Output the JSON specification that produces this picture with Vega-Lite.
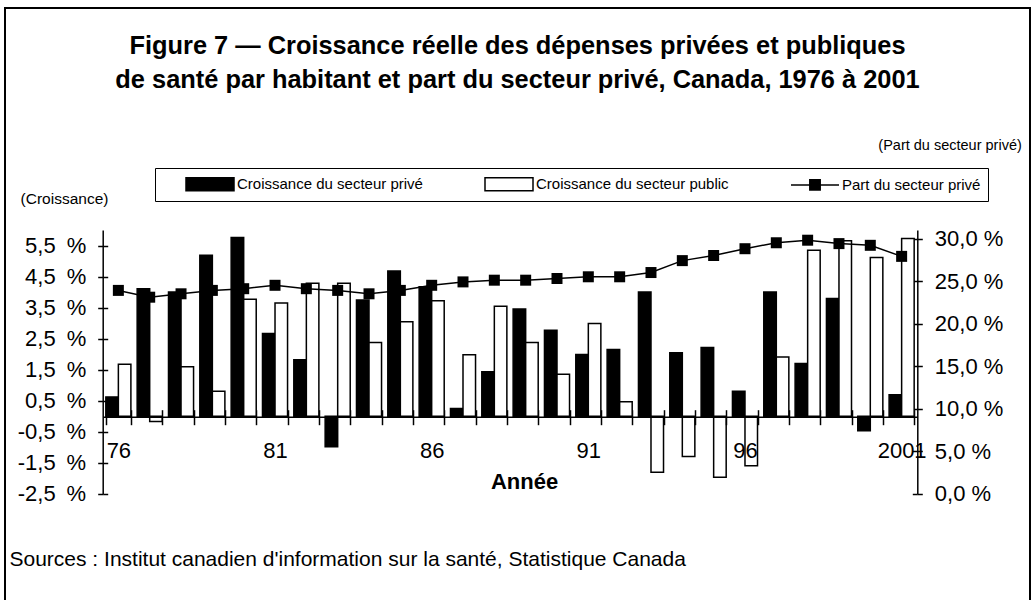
{
  "$schema": "https://vega.github.io/schema/vega-lite/v6.json",
  "autosize": {"type": "none"},
  "padding": {"left": 5, "top": 8, "right": 5, "bottom": 0},
  "width": 1025,
  "height": 600,
  "background": "white",
  "config": {
    "view": {"stroke": "black", "strokeWidth": 2, "fill": "white"},
    "font": "Liberation Sans",
    "legend": {
      "title": null,
      "orient": "none",
      "legendX": 150,
      "legendY": 160,
      "direction": "horizontal",
      "columns": 3,
      "columnPadding": 38,
      "padding": 7,
      "strokeColor": "black",
      "fillColor": "white",
      "symbolSize": 256,
      "symbolOffset": 39,
      "symbolStrokeColor": "black",
      "symbolStrokeWidth": 1.5,
      "labelOffset": 18,
      "labelFont": "Liberation Sans",
      "labelFontSize": 15,
      "labelColor": "black",
      "labelLimit": 400
    }
  },
  "title": {
    "text": ["Figure 7 — Croissance réelle des dépenses privées et publiques", "de santé par habitant et part du secteur privé, Canada, 1976 à 2001"],
    "anchor": "middle",
    "frame": "group",
    "baseline": "bottom",
    "offset": -110,
    "lineHeight": 34,
    "font": "Liberation Sans",
    "fontSize": 25.4,
    "fontWeight": "bold",
    "color": "black"
  },
  "datasets": {
    "croissance": [
      {"annee": 1976, "serie": "Croissance du secteur privé", "valeur": 0.62},
      {"annee": 1976, "serie": "Croissance du secteur public", "valeur": 1.67},
      {"annee": 1977, "serie": "Croissance du secteur privé", "valeur": 4.11},
      {"annee": 1977, "serie": "Croissance du secteur public", "valeur": -0.17},
      {"annee": 1978, "serie": "Croissance du secteur privé", "valeur": 4.0},
      {"annee": 1978, "serie": "Croissance du secteur public", "valeur": 1.59},
      {"annee": 1979, "serie": "Croissance du secteur privé", "valeur": 5.19},
      {"annee": 1979, "serie": "Croissance du secteur public", "valeur": 0.8},
      {"annee": 1980, "serie": "Croissance du secteur privé", "valeur": 5.76},
      {"annee": 1980, "serie": "Croissance du secteur public", "valeur": 3.77},
      {"annee": 1981, "serie": "Croissance du secteur privé", "valeur": 2.66},
      {"annee": 1981, "serie": "Croissance du secteur public", "valeur": 3.65},
      {"annee": 1982, "serie": "Croissance du secteur privé", "valeur": 1.82},
      {"annee": 1982, "serie": "Croissance du secteur public", "valeur": 4.28},
      {"annee": 1983, "serie": "Croissance du secteur privé", "valeur": -0.99},
      {"annee": 1983, "serie": "Croissance du secteur public", "valeur": 4.28},
      {"annee": 1984, "serie": "Croissance du secteur privé", "valeur": 3.74},
      {"annee": 1984, "serie": "Croissance du secteur public", "valeur": 2.37},
      {"annee": 1985, "serie": "Croissance du secteur privé", "valeur": 4.68},
      {"annee": 1985, "serie": "Croissance du secteur public", "valeur": 3.04},
      {"annee": 1986, "serie": "Croissance du secteur privé", "valeur": 4.17},
      {"annee": 1986, "serie": "Croissance du secteur public", "valeur": 3.72},
      {"annee": 1987, "serie": "Croissance du secteur privé", "valeur": 0.25},
      {"annee": 1987, "serie": "Croissance du secteur public", "valeur": 1.98},
      {"annee": 1988, "serie": "Croissance du secteur privé", "valeur": 1.43},
      {"annee": 1988, "serie": "Croissance du secteur public", "valeur": 3.54},
      {"annee": 1989, "serie": "Croissance du secteur privé", "valeur": 3.45},
      {"annee": 1989, "serie": "Croissance du secteur public", "valeur": 2.37},
      {"annee": 1990, "serie": "Croissance du secteur privé", "valeur": 2.77},
      {"annee": 1990, "serie": "Croissance du secteur public", "valeur": 1.35},
      {"annee": 1991, "serie": "Croissance du secteur privé", "valeur": 1.99},
      {"annee": 1991, "serie": "Croissance du secteur public", "valeur": 2.99},
      {"annee": 1992, "serie": "Croissance du secteur privé", "valeur": 2.15},
      {"annee": 1992, "serie": "Croissance du secteur public", "valeur": 0.46},
      {"annee": 1993, "serie": "Croissance du secteur privé", "valeur": 4.0},
      {"annee": 1993, "serie": "Croissance du secteur public", "valeur": -1.81},
      {"annee": 1994, "serie": "Croissance du secteur privé", "valeur": 2.04},
      {"annee": 1994, "serie": "Croissance du secteur public", "valeur": -1.3},
      {"annee": 1995, "serie": "Croissance du secteur privé", "valeur": 2.21},
      {"annee": 1995, "serie": "Croissance du secteur public", "valeur": -1.97},
      {"annee": 1996, "serie": "Croissance du secteur privé", "valeur": 0.8},
      {"annee": 1996, "serie": "Croissance du secteur public", "valeur": -1.6},
      {"annee": 1997, "serie": "Croissance du secteur privé", "valeur": 4.0},
      {"annee": 1997, "serie": "Croissance du secteur public", "valeur": 1.91},
      {"annee": 1998, "serie": "Croissance du secteur privé", "valeur": 1.7},
      {"annee": 1998, "serie": "Croissance du secteur public", "valeur": 5.35},
      {"annee": 1999, "serie": "Croissance du secteur privé", "valeur": 3.79},
      {"annee": 1999, "serie": "Croissance du secteur public", "valeur": 5.65},
      {"annee": 2000, "serie": "Croissance du secteur privé", "valeur": -0.47},
      {"annee": 2000, "serie": "Croissance du secteur public", "valeur": 5.11},
      {"annee": 2001, "serie": "Croissance du secteur privé", "valeur": 0.69},
      {"annee": 2001, "serie": "Croissance du secteur public", "valeur": 5.73}
    ],
    "part": [
      {"annee": 1976, "part": 23.9},
      {"annee": 1977, "part": 23.1},
      {"annee": 1978, "part": 23.5},
      {"annee": 1979, "part": 23.9},
      {"annee": 1980, "part": 24.1},
      {"annee": 1981, "part": 24.5},
      {"annee": 1982, "part": 24.1},
      {"annee": 1983, "part": 23.9},
      {"annee": 1984, "part": 23.5},
      {"annee": 1985, "part": 23.9},
      {"annee": 1986, "part": 24.5},
      {"annee": 1987, "part": 24.9},
      {"annee": 1988, "part": 25.1},
      {"annee": 1989, "part": 25.1},
      {"annee": 1990, "part": 25.3},
      {"annee": 1991, "part": 25.5},
      {"annee": 1992, "part": 25.5},
      {"annee": 1993, "part": 26.0},
      {"annee": 1994, "part": 27.4},
      {"annee": 1995, "part": 28.0},
      {"annee": 1996, "part": 28.8},
      {"annee": 1997, "part": 29.5},
      {"annee": 1998, "part": 29.8},
      {"annee": 1999, "part": 29.4},
      {"annee": 2000, "part": 29.2},
      {"annee": 2001, "part": 27.9}
    ]
  },
  "layer": [
    {
      "layer": [
        {
          "data": {"name": "croissance"},
          "mark": {"type": "bar", "stroke": "black", "strokeWidth": 1.5},
          "encoding": {
            "x": {
              "field": "annee",
              "type": "ordinal",
              "scale": {"type": "band", "range": [97.7, 912.3], "paddingInner": 0.2, "paddingOuter": 0.1},
              "axis": {
                "orient": "bottom",
                "offset": -191.3,
                "zindex": 1,
                "tickBand": "extent",
                "tickSize": 8,
                "tickWidth": 1.5,
                "tickColor": "black",
                "domainColor": "black",
                "domainWidth": 1.5,
                "labelAngle": 0,
                "labelOverlap": false,
                "labelPadding": 16,
                "labelFont": "Liberation Sans",
                "labelFontSize": 22,
                "labelColor": "black",
                "labelExpr": "datum.value % 5 == 1 ? (datum.value == 2001 ? '2001' : substring(toString(datum.value), 2)) : ''",
                "grid": false,
                "title": "Année",
                "titleFont": "Liberation Sans",
                "titleFontSize": 22,
                "titleFontWeight": "bold",
                "titleColor": "black",
                "titleX": 519,
                "titleY": 71.6,
                "titleAlign": "center",
                "titleBaseline": "alphabetic"
              }
            },
            "xOffset": {
              "field": "serie",
              "type": "nominal",
              "scale": {"domain": ["Croissance du secteur privé", "Croissance du secteur public"], "paddingInner": 0, "paddingOuter": 0}
            },
            "y": {
              "field": "valeur",
              "type": "quantitative",
              "scale": {"domain": [-2.5, 6], "range": [485.7, 222], "nice": false, "zero": false},
              "axis": {
                "orient": "left",
                "offset": -97.7,
                "values": [-2.5, -1.5, -0.5, 0.5, 1.5, 2.5, 3.5, 4.5, 5.5],
                "labelExpr": "(datum.value < 0 ? '-' : '') + replace(format(abs(datum.value), '.1f'), '.', ',') + '\u2002%'",
                "tickSize": 5,
                "tickWidth": 1.5,
                "tickColor": "black",
                "domainColor": "black",
                "domainWidth": 1.5,
                "labelPadding": 12,
                "labelFont": "Liberation Sans",
                "labelFontSize": 22,
                "labelColor": "black",
                "grid": false,
                "title": "(Croissance)",
                "titleAngle": 0,
                "titleX": -38.7,
                "titleY": 195,
                "titleAlign": "center",
                "titleBaseline": "alphabetic",
                "titleFont": "Liberation Sans",
                "titleFontSize": 15.5,
                "titleFontWeight": "normal",
                "titleColor": "black"
              }
            },
            "fill": {
              "field": "serie",
              "type": "nominal",
              "scale": {"domain": ["Croissance du secteur privé", "Croissance du secteur public", "Part du secteur privé"], "range": ["black", "white", "black"]},
              "legend": {"title": null}
            }
          }
        },
        {
          "data": {"name": "croissance"},
          "transform": [{"filter": "false"}],
          "mark": {"type": "point", "opacity": 1},
          "encoding": {
            "y": {
              "field": "valeur",
              "type": "quantitative",
              "axis": {
                "orient": "left",
                "offset": -97.7,
                "values": [-2.5, -1.5, -0.5, 0.5, 1.5, 2.5, 3.5, 4.5, 5.5],
                "tickSize": -5,
                "tickWidth": 1.5,
                "tickColor": "black",
                "domain": false,
                "labels": false,
                "grid": false,
                "title": null
              }
            }
          }
        }
      ],
      "resolve": {"axis": {"y": "independent"}}
    },
    {
      "layer": [
        {
          "data": {"name": "part"},
          "mark": {"type": "line", "color": "black", "strokeWidth": 1.5, "point": {"shape": "square", "size": 121, "filled": true, "fill": "black", "opacity": 1}},
          "encoding": {
            "x": {
              "field": "annee",
              "type": "ordinal",
              "axis": {
                "orient": "top",
                "offset": -408.7,
                "tickBand": "extent",
                "tickSize": 7,
                "tickWidth": 1.5,
                "tickColor": "black",
                "domain": false,
                "labels": false,
                "grid": false,
                "title": "Sources : Institut canadien d'information sur la santé, Statistique Canada",
                "titleFont": "Liberation Sans",
                "titleFontSize": 21,
                "titleFontWeight": "normal",
                "titleColor": "black",
                "titleX": 4,
                "titleY": 149,
                "titleAlign": "left",
                "titleBaseline": "alphabetic"
              }
            },
            "y": {
              "field": "part",
              "type": "quantitative",
              "scale": {"domain": [0, 31], "range": [485.7, 222], "nice": false, "zero": false},
              "axis": {
                "orient": "right",
                "offset": -112.7,
                "values": [0, 5, 10, 15, 20, 25, 30],
                "labelExpr": "replace(format(datum.value, '.1f'), '.', ',') + ' %'",
                "tickSize": 5,
                "tickWidth": 1.5,
                "tickColor": "black",
                "domainColor": "black",
                "domainWidth": 1.5,
                "labelPadding": 12,
                "labelFont": "Liberation Sans",
                "labelFontSize": 22,
                "labelColor": "black",
                "grid": false,
                "title": "(Part du secteur privé)",
                "titleAngle": 0,
                "titleX": 104,
                "titleY": 141,
                "titleAlign": "right",
                "titleBaseline": "alphabetic",
                "titleFont": "Liberation Sans",
                "titleFontSize": 14.5,
                "titleFontWeight": "normal",
                "titleColor": "black"
              }
            }
          }
        },
        {
          "data": {"name": "part"},
          "transform": [{"filter": "false"}],
          "mark": {"type": "point", "opacity": 1},
          "encoding": {
            "y": {
              "field": "part",
              "type": "quantitative",
              "axis": {
                "orient": "right",
                "offset": -112.7,
                "values": [0, 5, 10, 15, 20, 25, 30],
                "tickSize": -5,
                "tickWidth": 1.5,
                "tickColor": "black",
                "domain": false,
                "labels": false,
                "grid": false,
                "title": null
              }
            }
          }
        }
      ],
      "resolve": {"axis": {"y": "independent"}}
    },
    {
      "data": {"name": "part"},
      "transform": [{"filter": "false"}],
      "mark": {"type": "point", "filled": true, "stroke": "black", "strokeWidth": 1.5, "opacity": 1},
      "encoding": {
        "fill": {
          "field": "serie",
          "type": "nominal",
          "scale": {"domain": ["Croissance du secteur privé", "Croissance du secteur public", "Part du secteur privé"], "range": ["black", "white", "black"]},
          "legend": {"title": null}
        },
        "shape": {
          "field": "serie",
          "type": "nominal",
          "scale": {"domain": ["Croissance du secteur privé", "Croissance du secteur public", "Part du secteur privé"], "range": ["M-3,-0.81H3V0.81H-3Z", "M-3,-0.81H3V0.81H-3Z", "M-3,0H3M-0.65,-0.65H0.65V0.65H-0.65Z"]},
          "legend": {"title": null}
        }
      }
    }
  ],
  "resolve": {"scale": {"y": "independent"}, "axis": {"x": "independent"}}
}
